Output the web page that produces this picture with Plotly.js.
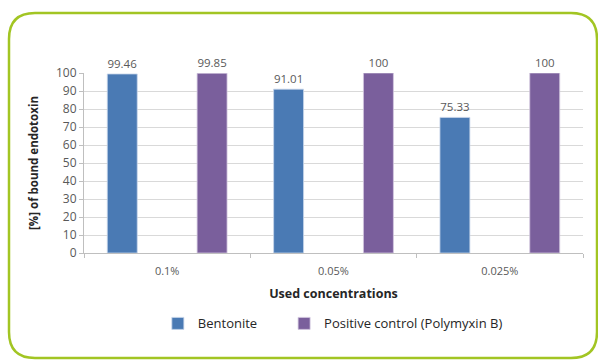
<!DOCTYPE html>
<html>
<head>
<meta charset="utf-8">
<script src="https://cdn.plot.ly/plotly-3.0.1.min.js"></script>
<style>
  html, body { margin: 0; padding: 0; background: #ffffff; }
  #chart { width: 598px; height: 360px; }
</style>
</head>
<body>
<div id="chart"></div>
<script>
// Endotoxin binding by concentration
const concentrations = ['0.1%', '0.05%', '0.025%'];
const bentonite = [99.46, 91.01, 75.33];
const polymyxin = [99.85, 100, 100];
const bentoniteLabels = ['99.46', '91.01', '75.33'];
const polymyxinLabels = ['99.85', '100', '100'];

const W = 598, H = 360;
const M = { l: 84, r: 15, t: 73, b: 107 };
const pw = W - M.l - M.r, ph = H - M.t - M.b;
// pixel -> paper coordinates for the rounded frame
const px = x => (x - M.l) / pw;
const py = y => (H - M.b - y) / ph;

function roundedFrame(x0, y0, x1, y1, r) {
  return [
    'M', px(x0 + r), py(y0),
    'L', px(x1 - r), py(y0),
    'Q', px(x1), py(y0), px(x1), py(y0 + r),
    'L', px(x1), py(y1 - r),
    'Q', px(x1), py(y1), px(x1 - r), py(y1),
    'L', px(x0 + r), py(y1),
    'Q', px(x0), py(y1), px(x0), py(y1 - r),
    'L', px(x0), py(y0 + r),
    'Q', px(x0), py(y0), px(x0 + r), py(y0),
    'Z'
  ].join(' ');
}

const font = 'Open Sans, Lato, sans-serif';
const grey = '#595959';
const barWidth = 0.18;   // in category units

const traces = [
  {
    type: 'bar', name: 'Bentonite', x: concentrations, y: bentonite,
    width: barWidth, offset: -0.36, legend: 'legend',
    text: bentoniteLabels, textposition: 'outside', cliponaxis: false,
    textfont: { family: font, size: 11.5, color: grey },
    marker: { color: '#4a7ab4', line: { color: '#c8d6ea', width: 0.8 } },
    hoverinfo: 'x+y'
  },
  {
    type: 'bar', name: 'Positive control (Polymyxin B)', x: concentrations, y: polymyxin,
    width: barWidth, offset: 0.18, legend: 'legend2',
    text: polymyxinLabels, textposition: 'outside', cliponaxis: false,
    textfont: { family: font, size: 11.5, color: grey },
    marker: { color: '#7a5f9c', line: { color: '#d3c8e0', width: 0.8 } },
    hoverinfo: 'x+y'
  }
];

const legendFont = { family: font, size: 13, color: '#262626' };

const layout = {
  width: W, height: H,
  margin: M,
  paper_bgcolor: '#ffffff', plot_bgcolor: '#ffffff',
  font: { family: font, size: 11, color: grey },
  barmode: 'group',
  showlegend: true,
  legend: {
    orientation: 'h', x: 0.148, xanchor: 'left', y: -0.308, yanchor: 'top',
    font: legendFont
  },
  legend2: {
    orientation: 'h', x: 0.401, xanchor: 'left', y: -0.308, yanchor: 'top',
    font: legendFont
  },
  xaxis: {
    type: 'category',
    showline: true, linecolor: '#bfbfbf', linewidth: 1,
    ticks: 'outside', tickson: 'boundaries', ticklen: 4, tickcolor: '#bfbfbf',
    ticklabelstandoff: 8,
    showgrid: false,
    tickfont: { family: font, size: 11, color: grey },
    title: { text: '<b>Used concentrations</b>', font: { family: font, size: 12.5, color: '#262626' }, standoff: 12 }
  },
  yaxis: {
    range: [0, 100], dtick: 10,
    showline: true, linecolor: '#bfbfbf', linewidth: 1,
    ticks: 'outside', ticklen: 4, tickcolor: '#bfbfbf',
    showgrid: true, gridcolor: '#d9d9d9', gridwidth: 1,
    zeroline: false,
    tickfont: { family: font, size: 12, color: grey },
    title: { text: '<b>[%] of bound endotoxin</b>', font: { family: font, size: 11.5, color: '#262626' }, standoff: 14 }
  },
  shapes: [
    {
      type: 'path', xref: 'paper', yref: 'paper', layer: 'below',
      path: roundedFrame(9, 13, 597, 358, 26),
      line: { color: '#a2c523', width: 2.5 }, fillcolor: 'rgba(0,0,0,0)'
    }
  ]
};

Plotly.newPlot('chart', traces, layout, { displayModeBar: false, staticPlot: true });
</script>
</body>
</html>
